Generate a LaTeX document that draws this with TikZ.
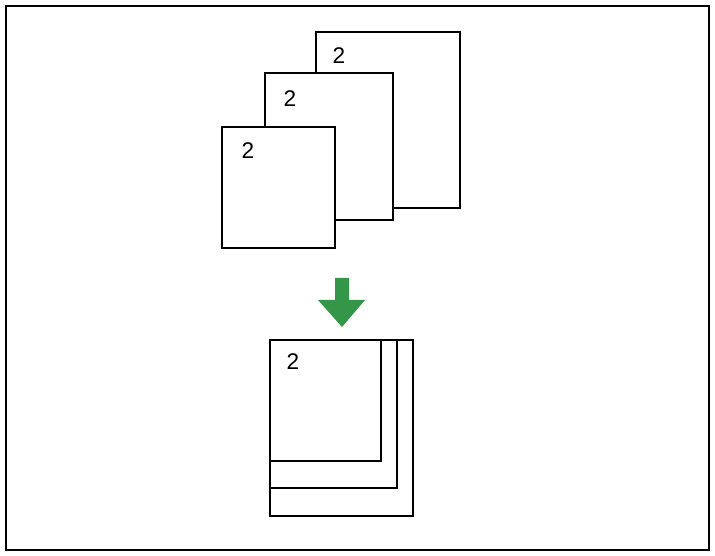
\documentclass[tikz,border=0pt]{standalone}
\usepackage{fontspec}
\setmainfont{Liberation Sans}
\definecolor{arrowgreen}{RGB}{52,150,72}
\begin{document}
\begin{tikzpicture}[x=0.75pt,y=-0.75pt,
  page/.style={draw,line width=1.6pt,fill=white},
  num/.style={font=\fontsize{17}{17}\selectfont,inner sep=0pt}]
\useasboundingbox(0,0)rectangle(715,556);
\draw[line width=0.8pt](6,6)rectangle(709,550);
% spread out
\draw[page](316,32)rectangle(460,208);
\node[num](ta) at (339,56){2};
\draw[page](265,73)rectangle(393,220);
\node[num](tb) at (290,99){2};
\draw[page](222,127)rectangle(335,248);
\node[num](tc) at (248,151){2};
% arrow
\fill[arrowgreen](335,278)--(349,278)--(349,300)--(365,300)--(342,327)--(318,300)--(335,300)--cycle;
% stacked
\draw[page](270,340)rectangle(413,516);
\draw[page](270,340)rectangle(397,488);
\draw[page](270,340)rectangle(381,461);
\node[num](sa) at (293,362){2};
\end{tikzpicture}
\end{document}
